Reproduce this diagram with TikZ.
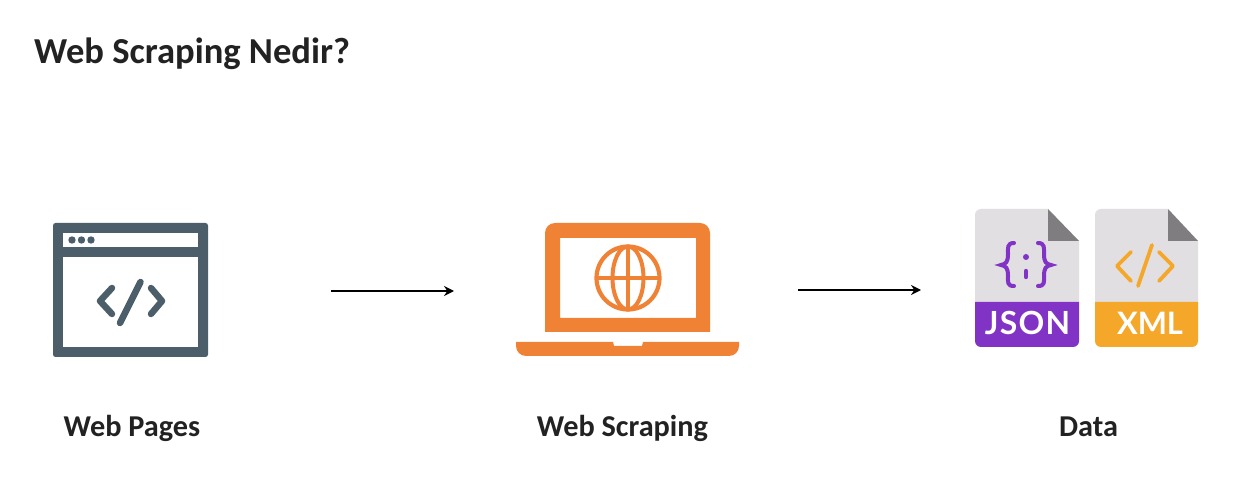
\documentclass[tikz,border=0pt]{standalone}
\usepackage{fontspec}
\setmainfont{Carlito}
\newfontfamily\filefont[LetterSpace=4]{Lato}
\newfontfamily\xmlfont{Lato}
\definecolor{slateC}{HTML}{4D5E6B}
\definecolor{orangeC}{HTML}{F08236}
\definecolor{paperC}{HTML}{E1DFE2}
\definecolor{foldC}{HTML}{7F7D80}
\definecolor{purpleC}{HTML}{8033C4}
\definecolor{amberC}{HTML}{F5A729}
\definecolor{inkC}{HTML}{222222}
\usetikzlibrary{arrows.meta}
\tikzset{
  title/.style={font=\fontsize{36.7}{40}\selectfont\bfseries,text=inkC,anchor=base west,inner sep=0pt},
  caption/.style={font=\fontsize{30.4}{34}\selectfont\bfseries,text=inkC,inner sep=0pt,anchor=base},
  flow/.style={draw=black,line width=2.2bp,-{Stealth[length=10bp,width=10bp]}},
  code/.style={line width=#1,line cap=round,line join=round},
  filelabel/.style={text=white,inner sep=0pt,anchor=base,font=\filefont\fontsize{32}{38}\selectfont\bfseries},
  xmllabel/.style={text=white,inner sep=0pt,anchor=base,font=\xmlfont\fontsize{31}{38}\selectfont\bfseries}
}
\begin{document}
\begin{tikzpicture}[x=1bp,y=-1bp]
\useasboundingbox[fill=white] (0,0) rectangle (1244,501);
\node[title] (t) at (34,64) {Web Scraping Nedir?};
% Browser icon
\fill[slateC,rounded corners=2.5bp,even odd rule] (53,223) rectangle (208,357);
\fill[white] (63,233) rectangle (198,247);
\fill[white] (63,257) rectangle (198,347);
\foreach \x in {72,81.5,91} \fill[slateC] (\x,240) circle (3.7);
\draw[slateC,code=6.5bp] (112,288) -- (100,301) -- (112,314);
\draw[slateC,code=6.5bp] (151,288) -- (162,301) -- (151,314);
\draw[slateC,code=6.5bp] (140.5,282) -- (120,323);
% Laptop icon
\fill[orangeC,even odd rule] (545,332) -- (545,233) arc[start angle=180,end angle=270,radius=10] -- (700,223) arc[start angle=270,end angle=360,radius=10] -- (710,332) -- cycle (560,238) rectangle (696,318);
\fill[orangeC] (516,342) -- (613,342) -- (614,346) -- (642,346) -- (643,342) -- (739,342) -- (739,346) arc[start angle=0,end angle=90,radius=10] -- (526,356) arc[start angle=90,end angle=180,radius=10] -- cycle;
\draw[orangeC,line width=4.2bp] (628,278) circle (31.5);
\draw[orangeC,line width=4bp] (628,278) ellipse (15.5 and 31.5);
\draw[orangeC,line width=4bp] (628,246.5) -- (628,309.5);
\draw[orangeC,line width=4bp] (596.5,278) -- (659.5,278);
% JSON file
\fill[paperC] (1048,209) -- (981,209) arc[start angle=270,end angle=180,radius=6] -- (975,302) -- (1079,302) -- (1079,241) -- cycle;
\fill[foldC] (1048,209) -- (1079,241) -- (1048,241) -- cycle;
\fill[purpleC] (975,302) -- (1079,302) -- (1079,341) arc[start angle=0,end angle=90,radius=6] -- (981,347) arc[start angle=90,end angle=180,radius=6] -- cycle;
\node[filelabel] (j) at (1027.5,335) {JSON};
\draw[purpleC,line width=4bp,line cap=round] (1014,243) .. controls (1007,243) and (1008,248) .. (1008,254) .. controls (1008,262) and (1006,264) .. (1001,265) .. controls (1006,266) and (1008,268) .. (1008,276) .. controls (1008,282) and (1007,286) .. (1014,286);
\draw[purpleC,line width=4bp,line cap=round] (1038,243) .. controls (1045,243) and (1044,248) .. (1044,254) .. controls (1044,262) and (1046,264) .. (1051,265) .. controls (1046,266) and (1044,268) .. (1044,276) .. controls (1044,282) and (1045,286) .. (1038,286);
\fill[purpleC] (1026,257) circle (3);
\draw[purpleC,line width=4.4bp,line cap=round] (1026,271) -- (1026,277);
% XML file
\fill[paperC] (1168,209) -- (1101,209) arc[start angle=270,end angle=180,radius=6] -- (1095,302) -- (1198,302) -- (1198,241) -- cycle;
\fill[foldC] (1168,209) -- (1198,241) -- (1168,241) -- cycle;
\fill[amberC] (1095,302) -- (1198,302) -- (1198,341) arc[start angle=0,end angle=90,radius=6] -- (1101,347) arc[start angle=90,end angle=180,radius=6] -- cycle;
\node[xmllabel] (x) at (1150,335) {XML};
\draw[amberC,code=3.8bp] (1131,252) -- (1117,266) -- (1131,281);
\draw[amberC,code=3.8bp] (1159,252) -- (1173,266) -- (1159,281);
\draw[amberC,code=3.8bp] (1152,245) -- (1138,286);
% Captions
\node[caption] (a) at (132,436.5) {Web Pages};
\node[caption] (b) at (622.5,436.5) {Web Scraping};
\node[caption] (c) at (1088.5,436.5) {Data};
% Arrows
\coordinate (a1) at (331,291); \coordinate (a2) at (454,291);
\coordinate (b1) at (798,290); \coordinate (b2) at (921,290);
\draw[flow] (a1) -- (a2);
\draw[flow] (b1) -- (b2);
\end{tikzpicture}
\end{document}
